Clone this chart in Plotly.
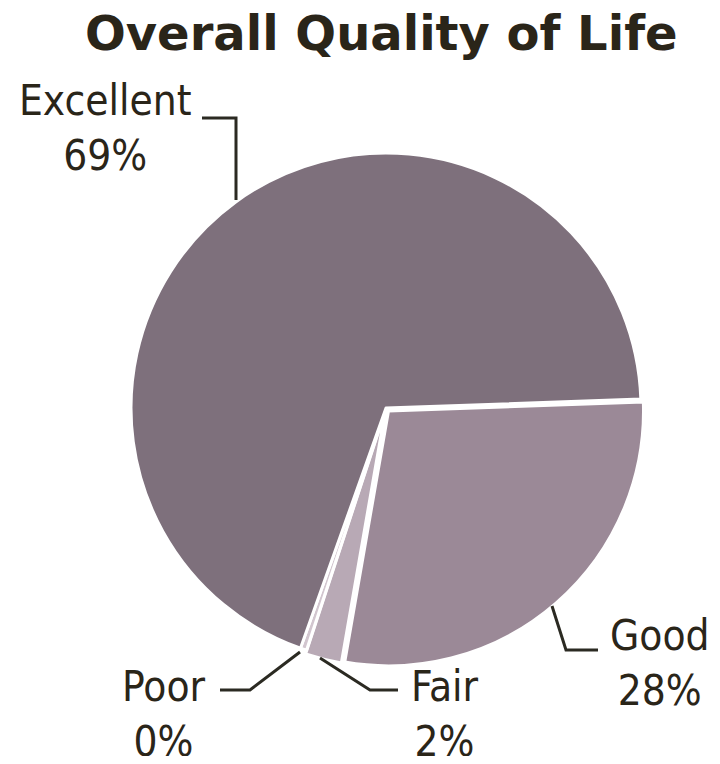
import plotly.graph_objects as go

# ---- data ----
categories = ["Good", "Fair", "Poor", "Excellent"]
values = [28.3, 2.3, 0.4, 69.0]
pct_labels = ["28%", "2%", "0%", "69%"]
colors = ["#9b8997", "#b8a9b5", "#d2c6cf", "#7e707c"]
title_text = "Overall Quality of Life"

# page body has an 8px margin; keep the figure inside the window
OFF = 8
W, H = 720 - 2 * OFF, 764 - 2 * OFF
CX, CY, R = 386, 408, 255
PULL = 0.015


def px(x, y):
    """window pixel -> paper coords"""
    return (x - OFF) / W, 1 - (y - OFF) / H


Rd = R * (1 + PULL)
x0, y1 = px(CX - Rd, CY - Rd)
x1, y0 = px(CX + Rd, CY + Rd)
fig = go.Figure(go.Pie(
    labels=categories,
    values=values,
    sort=False,
    direction="clockwise",
    rotation=88,
    marker=dict(colors=colors, line=dict(color="white", width=3)),
    pull=[PULL, PULL, 0, 0],
    textinfo="none",
    hoverinfo="label+percent",
    showlegend=False,
    domain=dict(x=[x0, x1], y=[y0, y1]),
))

TXT = "#2a2519"
label_font = dict(family="DejaVu Sans Condensed, DejaVu Sans", size=42, color=TXT)

# label placements (pixel centres of the two-line label) and leader paths
label_pos = {
    "Excellent": (106, 128),
    "Good": (660, 663),
    "Fair": (445, 714),
    "Poor": (164, 714),
}
leaders = {
    "Excellent": [(202, 118), (236, 118), (236, 200)],
    "Good": [(552, 606), (566, 650), (598, 650)],
    "Fair": [(320, 658), (370, 690), (398, 690)],
    "Poor": [(300, 652), (250, 690), (220, 690)],
}

annotations = []
for cat, pct in zip(categories, pct_labels):
    x, y = px(*label_pos[cat])
    annotations.append(dict(
        x=x, y=y, xref="paper", yref="paper", showarrow=False,
        text=f"{cat}<br>{pct}", font=label_font, align="center",
        xanchor="center", yanchor="middle",
    ))

tx, ty = px(381, 33)
annotations.append(dict(
    x=tx, y=ty, xref="paper", yref="paper", showarrow=False,
    text=f"<b>{title_text}</b>",
    font=dict(family="DejaVu Sans", size=48, color=TXT),
    xanchor="center", yanchor="middle",
))

shapes = []
for cat, pts in leaders.items():
    path = "M " + " L ".join(f"{px(*p)[0]},{px(*p)[1]}" for p in pts)
    shapes.append(dict(type="path", xref="paper", yref="paper", path=path,
                       line=dict(color="#2b2a22", width=3)))

fig.update_layout(
    width=W, height=H,
    margin=dict(l=0, r=0, t=0, b=0),
    paper_bgcolor="white",
    plot_bgcolor="white",
    annotations=annotations,
    shapes=shapes,
)

fig.write_html("out.html")
